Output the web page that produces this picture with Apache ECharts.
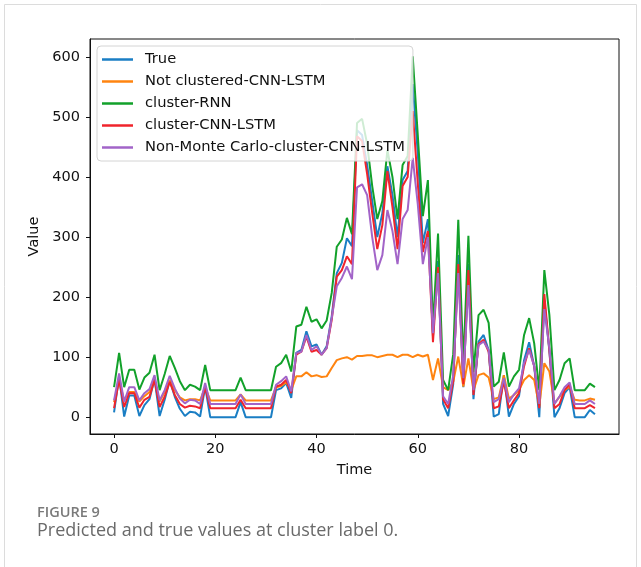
<!DOCTYPE html>
<html>
<head>
<meta charset="utf-8">
<script src="https://cdn.jsdelivr.net/npm/echarts@6/dist/echarts.min.js"></script>
<style>
  html, body { margin: 0; padding: 0; background: #fff; }
  #chart { width: 641px; height: 567px; }
</style>
</head>
<body>
<div id="chart"></div>
<script>
// values, time steps 0..95
const trueVals = [
  8, 68, 1, 36, 36, 2, 20, 30, 64, 2, 29, 61, 34, 14, 2, 9, 8, 1, 51, 0,
  0, 0, 0, 0, 0, 25, 0, 0, 0, 0, 0, 0, 45, 48, 57, 32, 107, 112, 143, 118,
  121, 104, 118, 168, 240, 257, 298, 285, 478, 470, 420, 360, 300, 340, 418, 370, 300, 395, 410, 555,
  440, 290, 330, 135, 260, 22, 2, 55, 270, 50, 255, 30, 126, 137, 112, 1, 5, 70, 1, 22,
  35, 95, 125, 85, 0, 195, 110, 0, 15, 40, 50, 0, 0, 0, 12, 5
];
const notClustered = [
  25, 62, 28, 42, 42, 26, 35, 42, 62, 26, 42, 62, 45, 33, 28, 30, 30, 28, 50, 28,
  28, 28, 28, 28, 28, 38, 28, 28, 28, 28, 28, 28, 50, 52, 58, 45, 68, 68, 75, 68,
  70, 67, 68, 82, 95, 98, 100, 96, 102, 102, 103, 103, 100, 102, 104, 104, 100, 104, 104, 100,
  104, 101, 104, 62, 98, 50, 45, 59, 101, 51, 98, 45, 70, 73, 66, 30, 33, 70, 31, 37,
  45, 62, 70, 62, 18, 90, 76, 23, 34, 45, 51, 29, 28, 28, 31, 29
];
const clusterRNN = [
  50, 107, 50, 79, 79, 46, 66, 74, 104, 45, 72, 102, 82, 60, 45, 54, 51, 45, 87, 45,
  45, 45, 45, 45, 45, 66, 45, 45, 45, 45, 45, 45, 84, 90, 104, 76, 151, 154, 184, 159,
  163, 148, 161, 207, 284, 296, 332, 305, 490, 497, 455, 385, 330, 360, 445, 400, 330, 420, 435, 601,
  470, 335, 395, 150, 306, 62, 45, 105, 329, 90, 302, 75, 170, 179, 157, 51, 59, 108, 51, 68,
  79, 137, 165, 123, 45, 245, 170, 45, 62, 90, 98, 45, 45, 45, 56, 50
];
const clusterCNNLSTM = [
  15, 63, 17, 40, 40, 16, 29, 34, 62, 17, 34, 59, 37, 22, 16, 19, 18, 15, 50, 15,
  15, 15, 15, 15, 15, 29, 15, 15, 15, 15, 15, 15, 51, 54, 62, 40, 104, 109, 134, 109,
  112, 104, 115, 162, 234, 245, 268, 255, 468, 460, 405, 340, 280, 320, 410, 350, 280, 385, 400, 510,
  390, 275, 310, 125, 250, 30, 15, 60, 255, 55, 245, 37, 122, 129, 109, 15, 18, 60, 15, 28,
  40, 85, 115, 85, 15, 205, 110, 15, 22, 45, 55, 15, 15, 15, 20, 15
];
const nonMonteCarlo = [
  28, 73, 26, 50, 50, 28, 40, 47, 70, 28, 45, 69, 48, 31, 23, 29, 28, 22, 57, 22,
  22, 22, 22, 22, 22, 38, 22, 22, 22, 22, 22, 22, 54, 60, 68, 43, 107, 109, 137, 112,
  118, 104, 115, 165, 218, 232, 251, 230, 383, 388, 370, 300, 245, 270, 345, 310, 255, 330, 345, 432,
  355, 255, 300, 140, 240, 35, 22, 70, 240, 65, 220, 45, 120, 126, 112, 25, 30, 65, 25, 38,
  48, 90, 112, 85, 22, 180, 115, 22, 35, 50, 58, 22, 22, 22, 28, 22
];

const seriesNames = ['True', 'Not clustered-CNN-LSTM', 'cluster-RNN', 'cluster-CNN-LSTM', 'Non-Monte Carlo-cluster-CNN-LSTM'];
const seriesColors = ['#1a7ec4', '#ff8410', '#12a12a', '#f0242c', '#a264c8'];
const xTicks = [0, 20, 40, 60, 80];
const yTicks = [0, 100, 200, 300, 400, 500, 600];

const chart = echarts.init(document.getElementById('chart'));
const font = 'DejaVu Sans';

const allSeries = [trueVals, notClustered, clusterRNN, clusterCNNLSTM, nonMonteCarlo].map((vals, k) => ({
  name: seriesNames[k],
  type: 'line',
  data: vals.map((v, i) => [i, v]),
  symbol: 'none',
  smooth: false,
  lineStyle: { color: seriesColors[k], width: 2 },
  itemStyle: { color: seriesColors[k] },
  animation: false
}));

chart.setOption({
  backgroundColor: '#fff',
  animation: false,
  grid: {
    left: 90,
    right: 22,
    top: 39,
    bottom: 133,
    show: true,
    borderColor: '#111',
    borderWidth: 1
  },
  legend: {
    orient: 'vertical',
    left: 97,
    top: 46,
    data: seriesNames,
    icon: 'rect',
    itemWidth: 31,
    itemHeight: 2.5,
    itemGap: 7,
    padding: [6, 8, 6, 5],
    backgroundColor: 'rgba(255,255,255,0.8)',
    borderColor: '#d4d4d4',
    borderWidth: 1,
    borderRadius: 4,
    textStyle: {
      fontFamily: font,
      fontSize: 14.7,
      lineHeight: 14.7,
      color: '#111',
      padding: [0, 0, 0, 7]
    }
  },
  xAxis: {
    type: 'value',
    min: -4.75,
    max: 99.75,
    name: 'Time',
    nameLocation: 'middle',
    nameGap: 29,
    nameTextStyle: { fontFamily: font, fontSize: 14.5, color: '#111' },
    splitLine: { show: false },
    axisLine: { show: true, onZero: false, lineStyle: { color: '#111' } },
    axisTick: { show: true, length: 4, lineStyle: { color: '#111' }, customValues: xTicks },
    axisLabel: { fontFamily: font, fontSize: 14.5, color: '#111', margin: 8, customValues: xTicks }
  },
  yAxis: {
    type: 'value',
    min: -28,
    max: 630,
    name: 'Value',
    nameLocation: 'middle',
    nameGap: 44,
    nameTextStyle: { fontFamily: font, fontSize: 14.5, color: '#111' },
    splitLine: { show: false },
    axisLine: { show: true, onZero: false, lineStyle: { color: '#111' } },
    axisTick: { show: true, length: 4, lineStyle: { color: '#111' }, customValues: yTicks },
    axisLabel: { fontFamily: font, fontSize: 14.5, color: '#111', margin: 10, customValues: yTicks }
  },
  graphic: [
    {
      type: 'rect',
      shape: { x: 4.5, y: 4.5, width: 632, height: 600 },
      style: { fill: 'none', stroke: '#dcdcdc', lineWidth: 1 },
      silent: true
    },
    {
      type: 'text',
      left: 37,
      top: 505,
      style: { text: 'FIGURE 9', fill: '#7a7a7a', font: '600 14.5px "Open Sans"' }
    },
    {
      type: 'text',
      left: 37,
      top: 522,
      style: { text: 'Predicted and true values at cluster label 0.', fill: '#6a6a6a', font: '18px "Open Sans"' }
    }
  ],
  series: allSeries
});
</script>
</body>
</html>
